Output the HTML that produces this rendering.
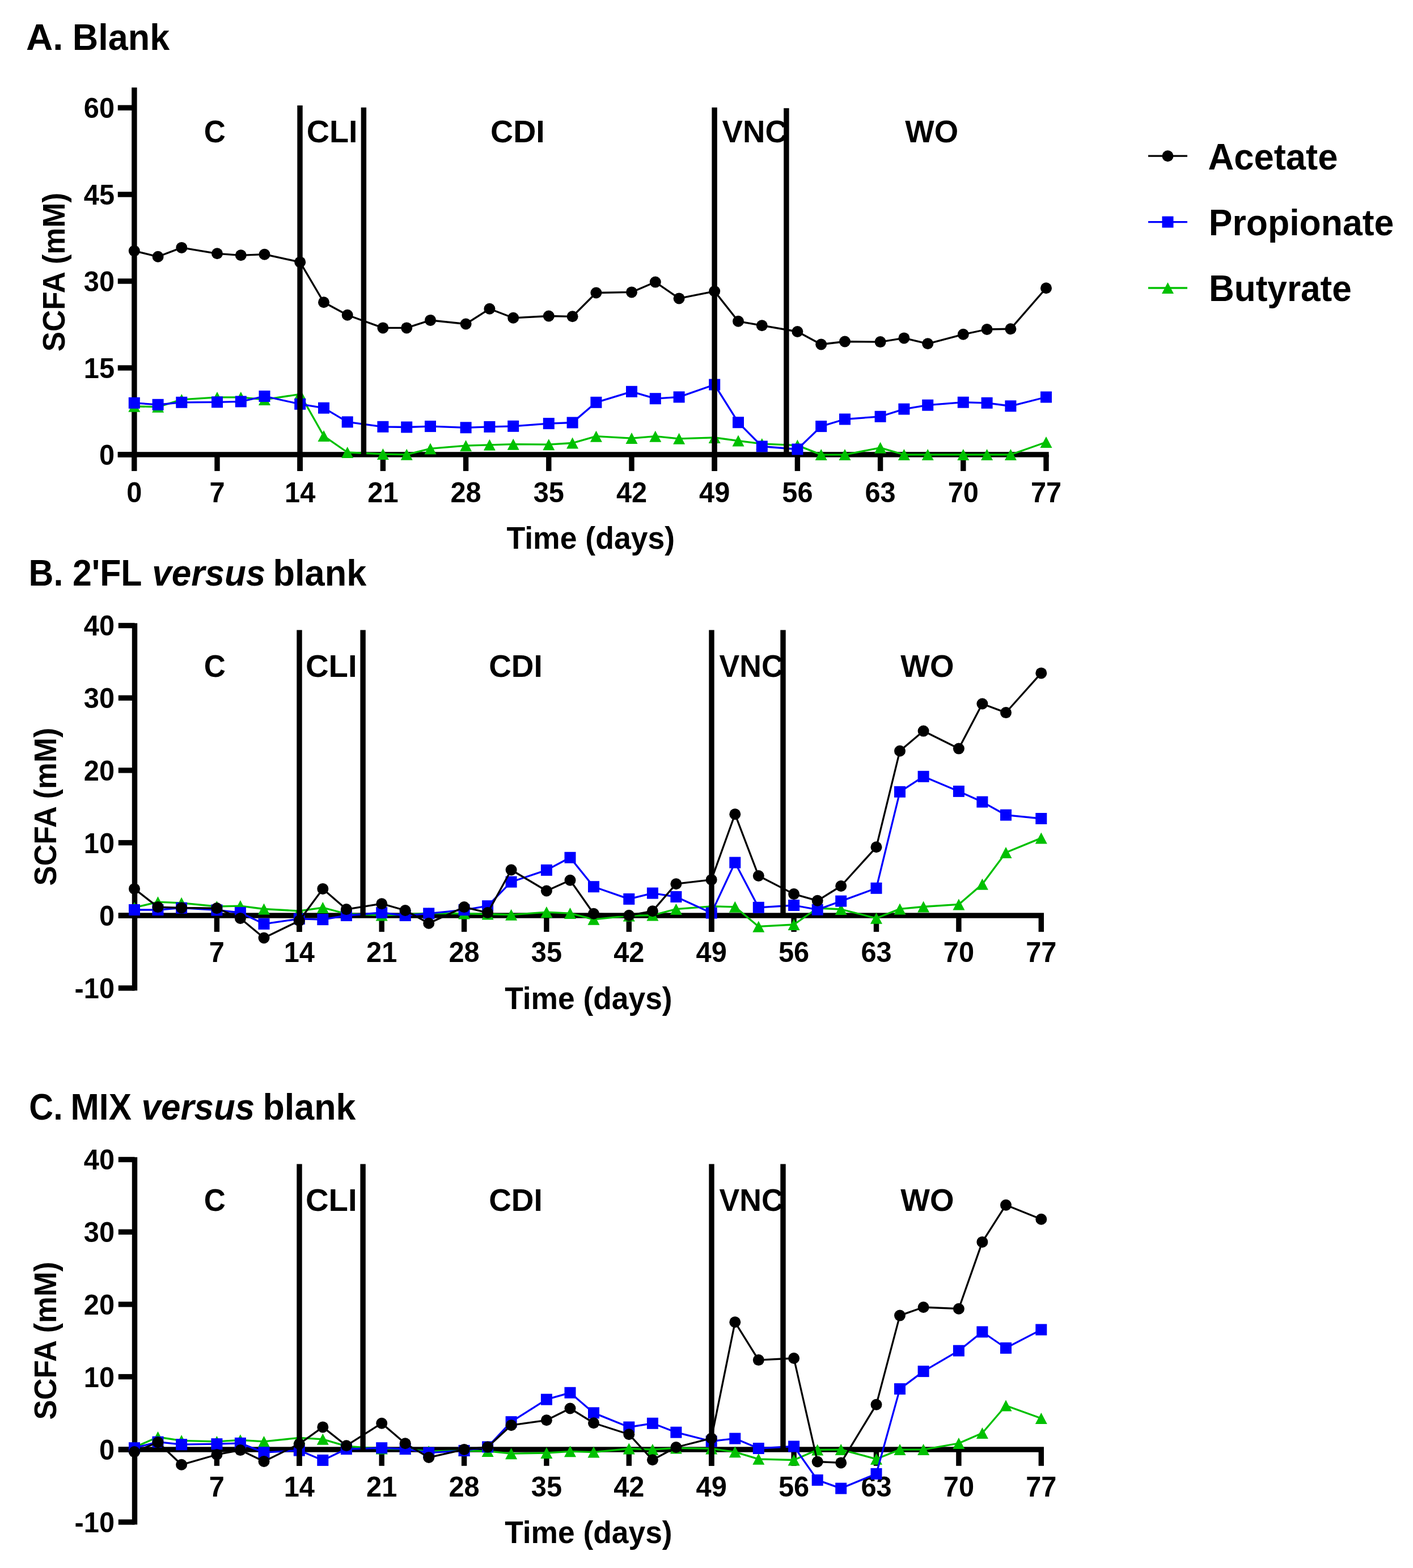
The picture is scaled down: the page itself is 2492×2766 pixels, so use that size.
<!DOCTYPE html><html><head><meta charset="utf-8"><title>SCFA</title><style>html,body{margin:0;padding:0;background:#fff;}svg{display:block;}text{font-family:'Liberation Sans', Arial, sans-serif;font-weight:bold;fill:#000;}</style></head><body>
<svg width="2492" height="2766" viewBox="0 0 2492 2766">
<rect x="0" y="0" width="2492" height="2766" fill="#fff"/>
<text x="0" y="0" font-size="64.5" transform="translate(46.1 87.9) scale(1.0146 1)">A.</text>
<text x="0" y="0" font-size="64.5" transform="translate(127.8 87.9) scale(0.9759 1)">Blank</text>
<text x="0" y="0" font-size="64.5" transform="translate(50.6 1032.7) scale(0.9429 1)">B.</text>
<text x="0" y="0" font-size="64.5" transform="translate(127.9 1032.7) scale(0.9429 1)">2'FL</text>
<text x="0" y="0" font-size="64.5" font-style="italic" transform="translate(268.3 1032.7) scale(0.9618 1)">versus</text>
<text x="0" y="0" font-size="64.5" transform="translate(481.5 1032.7) scale(0.9785 1)">blank</text>
<text x="0" y="0" font-size="64.5" transform="translate(51.3 1974.9) scale(0.9198 1)">C.</text>
<text x="0" y="0" font-size="64.5" transform="translate(124.6 1974.9) scale(0.9357 1)">MIX</text>
<text x="0" y="0" font-size="64.5" font-style="italic" transform="translate(249.6 1974.9) scale(0.9594 1)">versus</text>
<text x="0" y="0" font-size="64.5" transform="translate(463.5 1974.9) scale(0.9730 1)">blank</text>
<rect x="232.2" y="154.4" width="9.4" height="652.2" fill="#000000"/>
<rect x="207.8" y="185.4" width="29" height="9.4" fill="#000000"/>
<text x="0" y="0" font-size="50" text-anchor="end" transform="translate(202 208) scale(0.9750 1)">60</text>
<rect x="207.8" y="338.3" width="29" height="9.4" fill="#000000"/>
<text x="0" y="0" font-size="50" text-anchor="end" transform="translate(202 360.9) scale(0.9750 1)">45</text>
<rect x="207.8" y="491.3" width="29" height="9.4" fill="#000000"/>
<text x="0" y="0" font-size="50" text-anchor="end" transform="translate(202 513.9) scale(0.9750 1)">30</text>
<rect x="207.8" y="644.3" width="29" height="9.4" fill="#000000"/>
<text x="0" y="0" font-size="50" text-anchor="end" transform="translate(202 666.9) scale(0.9750 1)">15</text>
<rect x="207.8" y="797.2" width="29" height="9.4" fill="#000000"/>
<text x="0" y="0" font-size="50" text-anchor="end" transform="translate(202 819.9) scale(0.9750 1)">0</text>
<rect x="207.8" y="797.2" width="1641.9" height="9.4" fill="#000000"/>
<rect x="232.1" y="802" width="9.4" height="28.9" fill="#000000"/>
<text x="0" y="0" font-size="50" text-anchor="middle" transform="translate(236.8 886.3) scale(0.9750 1)">0</text>
<rect x="378.3" y="802" width="9.4" height="28.9" fill="#000000"/>
<text x="0" y="0" font-size="50" text-anchor="middle" transform="translate(383 886.3) scale(0.9750 1)">7</text>
<rect x="524.5" y="802" width="9.4" height="28.9" fill="#000000"/>
<text x="0" y="0" font-size="50" text-anchor="middle" transform="translate(529.2 886.3) scale(0.9750 1)">14</text>
<rect x="670.7" y="802" width="9.4" height="28.9" fill="#000000"/>
<text x="0" y="0" font-size="50" text-anchor="middle" transform="translate(675.4 886.3) scale(0.9750 1)">21</text>
<rect x="816.9" y="802" width="9.4" height="28.9" fill="#000000"/>
<text x="0" y="0" font-size="50" text-anchor="middle" transform="translate(821.6 886.3) scale(0.9750 1)">28</text>
<rect x="963.1" y="802" width="9.4" height="28.9" fill="#000000"/>
<text x="0" y="0" font-size="50" text-anchor="middle" transform="translate(967.8 886.3) scale(0.9750 1)">35</text>
<rect x="1109.3" y="802" width="9.4" height="28.9" fill="#000000"/>
<text x="0" y="0" font-size="50" text-anchor="middle" transform="translate(1114 886.3) scale(0.9750 1)">42</text>
<rect x="1255.5" y="802" width="9.4" height="28.9" fill="#000000"/>
<text x="0" y="0" font-size="50" text-anchor="middle" transform="translate(1260.2 886.3) scale(0.9750 1)">49</text>
<rect x="1401.7" y="802" width="9.4" height="28.9" fill="#000000"/>
<text x="0" y="0" font-size="50" text-anchor="middle" transform="translate(1406.4 886.3) scale(0.9750 1)">56</text>
<rect x="1547.9" y="802" width="9.4" height="28.9" fill="#000000"/>
<text x="0" y="0" font-size="50" text-anchor="middle" transform="translate(1552.6 886.3) scale(0.9750 1)">63</text>
<rect x="1694.1" y="802" width="9.4" height="28.9" fill="#000000"/>
<text x="0" y="0" font-size="50" text-anchor="middle" transform="translate(1698.8 886.3) scale(0.9750 1)">70</text>
<rect x="1840.3" y="802" width="9.4" height="28.9" fill="#000000"/>
<text x="0" y="0" font-size="50" text-anchor="middle" transform="translate(1845 886.3) scale(0.9750 1)">77</text>
<polyline points="236.8,716.8 278.6,717.8 320.3,704.9 383,700.9 424.8,700.9 466.5,704.9 529.2,695.3 571,769.1 612.7,798 675.4,801 717.2,801.8 759,791.4 821.6,786.2 863.4,784.8 905.2,783.7 967.8,784.2 1009.6,781.5 1051.4,769.7 1114,773.1 1155.8,769.7 1197.6,773.8 1260.2,771.9 1302,777.6 1343.8,782.9 1406.4,785.6 1448.2,802.1 1490,802.1 1552.6,789.8 1594.4,802 1636.2,802 1698.8,802 1740.6,802 1782.4,802 1845,780" fill="none" stroke="#00C000" stroke-width="3.3" stroke-linejoin="round"/>
<path d="M236.8 706.8L247.3 726.8L226.3 726.8Z" fill="#00C000"/>
<path d="M278.6 707.8L289.1 727.8L268.1 727.8Z" fill="#00C000"/>
<path d="M320.3 694.9L330.8 714.9L309.8 714.9Z" fill="#00C000"/>
<path d="M383 690.9L393.5 710.9L372.5 710.9Z" fill="#00C000"/>
<path d="M424.8 690.9L435.3 710.9L414.3 710.9Z" fill="#00C000"/>
<path d="M466.5 694.9L477 714.9L456 714.9Z" fill="#00C000"/>
<path d="M529.2 685.3L539.7 705.3L518.7 705.3Z" fill="#00C000"/>
<path d="M571 759.1L581.5 779.1L560.5 779.1Z" fill="#00C000"/>
<path d="M612.7 788L623.2 808L602.2 808Z" fill="#00C000"/>
<path d="M675.4 791L685.9 811L664.9 811Z" fill="#00C000"/>
<path d="M717.2 791.8L727.7 811.8L706.7 811.8Z" fill="#00C000"/>
<path d="M759 781.4L769.5 801.4L748.5 801.4Z" fill="#00C000"/>
<path d="M821.6 776.2L832.1 796.2L811.1 796.2Z" fill="#00C000"/>
<path d="M863.4 774.8L873.9 794.8L852.9 794.8Z" fill="#00C000"/>
<path d="M905.2 773.7L915.7 793.7L894.7 793.7Z" fill="#00C000"/>
<path d="M967.8 774.2L978.3 794.2L957.3 794.2Z" fill="#00C000"/>
<path d="M1009.6 771.5L1020.1 791.5L999.1 791.5Z" fill="#00C000"/>
<path d="M1051.4 759.7L1061.9 779.7L1040.9 779.7Z" fill="#00C000"/>
<path d="M1114 763.1L1124.5 783.1L1103.5 783.1Z" fill="#00C000"/>
<path d="M1155.8 759.7L1166.3 779.7L1145.3 779.7Z" fill="#00C000"/>
<path d="M1197.6 763.8L1208.1 783.8L1187.1 783.8Z" fill="#00C000"/>
<path d="M1260.2 761.9L1270.7 781.9L1249.7 781.9Z" fill="#00C000"/>
<path d="M1302 767.6L1312.5 787.6L1291.5 787.6Z" fill="#00C000"/>
<path d="M1343.8 772.9L1354.3 792.9L1333.3 792.9Z" fill="#00C000"/>
<path d="M1406.4 775.6L1416.9 795.6L1395.9 795.6Z" fill="#00C000"/>
<path d="M1448.2 792.1L1458.7 812.1L1437.7 812.1Z" fill="#00C000"/>
<path d="M1490 792.1L1500.5 812.1L1479.5 812.1Z" fill="#00C000"/>
<path d="M1552.6 779.8L1563.1 799.8L1542.1 799.8Z" fill="#00C000"/>
<path d="M1594.4 792L1604.9 812L1583.9 812Z" fill="#00C000"/>
<path d="M1636.2 792L1646.7 812L1625.7 812Z" fill="#00C000"/>
<path d="M1698.8 792L1709.3 812L1688.3 812Z" fill="#00C000"/>
<path d="M1740.6 792L1751.1 812L1730.1 812Z" fill="#00C000"/>
<path d="M1782.4 792L1792.9 812L1771.9 812Z" fill="#00C000"/>
<path d="M1845 770L1855.5 790L1834.5 790Z" fill="#00C000"/>
<polyline points="236.8,710.8 278.6,713.8 320.3,709.8 383,709.3 424.8,708.4 466.5,699 529.2,712.8 571,719.7 612.7,744.4 675.4,752.8 717.2,753.5 759,752.1 821.6,754.3 863.4,752.9 905.2,751.8 967.8,747.1 1009.6,745.5 1051.4,709.8 1114,690.8 1155.8,703.2 1197.6,700.4 1260.2,678.5 1302,745.2 1343.8,787.5 1406.4,792.5 1448.2,752.1 1490,739.5 1552.6,734.8 1594.4,721.6 1636.2,714.7 1698.8,709.7 1740.6,710.8 1782.4,716.3 1845,700.5" fill="none" stroke="#0000FF" stroke-width="3.3" stroke-linejoin="round"/>
<rect x="226.8" y="700.8" width="20" height="20" fill="#0000FF"/>
<rect x="268.6" y="703.8" width="20" height="20" fill="#0000FF"/>
<rect x="310.3" y="699.8" width="20" height="20" fill="#0000FF"/>
<rect x="373" y="699.3" width="20" height="20" fill="#0000FF"/>
<rect x="414.8" y="698.4" width="20" height="20" fill="#0000FF"/>
<rect x="456.5" y="689" width="20" height="20" fill="#0000FF"/>
<rect x="519.2" y="702.8" width="20" height="20" fill="#0000FF"/>
<rect x="561" y="709.7" width="20" height="20" fill="#0000FF"/>
<rect x="602.7" y="734.4" width="20" height="20" fill="#0000FF"/>
<rect x="665.4" y="742.8" width="20" height="20" fill="#0000FF"/>
<rect x="707.2" y="743.5" width="20" height="20" fill="#0000FF"/>
<rect x="749" y="742.1" width="20" height="20" fill="#0000FF"/>
<rect x="811.6" y="744.3" width="20" height="20" fill="#0000FF"/>
<rect x="853.4" y="742.9" width="20" height="20" fill="#0000FF"/>
<rect x="895.2" y="741.8" width="20" height="20" fill="#0000FF"/>
<rect x="957.8" y="737.1" width="20" height="20" fill="#0000FF"/>
<rect x="999.6" y="735.5" width="20" height="20" fill="#0000FF"/>
<rect x="1041.4" y="699.8" width="20" height="20" fill="#0000FF"/>
<rect x="1104" y="680.8" width="20" height="20" fill="#0000FF"/>
<rect x="1145.8" y="693.2" width="20" height="20" fill="#0000FF"/>
<rect x="1187.6" y="690.4" width="20" height="20" fill="#0000FF"/>
<rect x="1250.2" y="668.5" width="20" height="20" fill="#0000FF"/>
<rect x="1292" y="735.2" width="20" height="20" fill="#0000FF"/>
<rect x="1333.8" y="777.5" width="20" height="20" fill="#0000FF"/>
<rect x="1396.4" y="782.5" width="20" height="20" fill="#0000FF"/>
<rect x="1438.2" y="742.1" width="20" height="20" fill="#0000FF"/>
<rect x="1480" y="729.5" width="20" height="20" fill="#0000FF"/>
<rect x="1542.6" y="724.8" width="20" height="20" fill="#0000FF"/>
<rect x="1584.4" y="711.6" width="20" height="20" fill="#0000FF"/>
<rect x="1626.2" y="704.7" width="20" height="20" fill="#0000FF"/>
<rect x="1688.8" y="699.7" width="20" height="20" fill="#0000FF"/>
<rect x="1730.6" y="700.8" width="20" height="20" fill="#0000FF"/>
<rect x="1772.4" y="706.3" width="20" height="20" fill="#0000FF"/>
<rect x="1835" y="690.5" width="20" height="20" fill="#0000FF"/>
<polyline points="236.8,442.6 278.6,452.8 320.3,436.9 383,447.3 424.8,450.3 466.5,448.7 529.2,462.4 571,533.3 612.7,555.8 675.4,578.4 717.2,578.4 759,564.9 821.6,571.5 863.4,544.8 905.2,560.8 967.8,557.5 1009.6,558.3 1051.4,516.5 1114,515.4 1155.8,497.6 1197.6,526.4 1260.2,513.8 1302,566.8 1343.8,574.2 1406.4,585 1448.2,607.5 1490,602.5 1552.6,603.1 1594.4,596.4 1636.2,606.3 1698.8,589.8 1740.6,581 1782.4,580.2 1845,508.2" fill="none" stroke="#000000" stroke-width="3.3" stroke-linejoin="round"/>
<circle cx="236.8" cy="442.6" r="10" fill="#000000"/>
<circle cx="278.6" cy="452.8" r="10" fill="#000000"/>
<circle cx="320.3" cy="436.9" r="10" fill="#000000"/>
<circle cx="383" cy="447.3" r="10" fill="#000000"/>
<circle cx="424.8" cy="450.3" r="10" fill="#000000"/>
<circle cx="466.5" cy="448.7" r="10" fill="#000000"/>
<circle cx="529.2" cy="462.4" r="10" fill="#000000"/>
<circle cx="571" cy="533.3" r="10" fill="#000000"/>
<circle cx="612.7" cy="555.8" r="10" fill="#000000"/>
<circle cx="675.4" cy="578.4" r="10" fill="#000000"/>
<circle cx="717.2" cy="578.4" r="10" fill="#000000"/>
<circle cx="759" cy="564.9" r="10" fill="#000000"/>
<circle cx="821.6" cy="571.5" r="10" fill="#000000"/>
<circle cx="863.4" cy="544.8" r="10" fill="#000000"/>
<circle cx="905.2" cy="560.8" r="10" fill="#000000"/>
<circle cx="967.8" cy="557.5" r="10" fill="#000000"/>
<circle cx="1009.6" cy="558.3" r="10" fill="#000000"/>
<circle cx="1051.4" cy="516.5" r="10" fill="#000000"/>
<circle cx="1114" cy="515.4" r="10" fill="#000000"/>
<circle cx="1155.8" cy="497.6" r="10" fill="#000000"/>
<circle cx="1197.6" cy="526.4" r="10" fill="#000000"/>
<circle cx="1260.2" cy="513.8" r="10" fill="#000000"/>
<circle cx="1302" cy="566.8" r="10" fill="#000000"/>
<circle cx="1343.8" cy="574.2" r="10" fill="#000000"/>
<circle cx="1406.4" cy="585" r="10" fill="#000000"/>
<circle cx="1448.2" cy="607.5" r="10" fill="#000000"/>
<circle cx="1490" cy="602.5" r="10" fill="#000000"/>
<circle cx="1552.6" cy="603.1" r="10" fill="#000000"/>
<circle cx="1594.4" cy="596.4" r="10" fill="#000000"/>
<circle cx="1636.2" cy="606.3" r="10" fill="#000000"/>
<circle cx="1698.8" cy="589.8" r="10" fill="#000000"/>
<circle cx="1740.6" cy="581" r="10" fill="#000000"/>
<circle cx="1782.4" cy="580.2" r="10" fill="#000000"/>
<circle cx="1845" cy="508.2" r="10" fill="#000000"/>
<text x="0" y="0" font-size="55.6" transform="translate(359.8 251) scale(0.9491 1)">C</text>
<text x="0" y="0" font-size="55.6" transform="translate(540.7 251) scale(1.0036 1)">CLI</text>
<text x="0" y="0" font-size="55.6" transform="translate(865.1 251) scale(0.9992 1)">CDI</text>
<text x="0" y="0" font-size="55.6" transform="translate(1273.6 251) scale(0.9817 1)">VNC</text>
<text x="0" y="0" font-size="55.6" transform="translate(1596.2 251) scale(0.9806 1)">WO</text>
<rect x="524.3" y="186" width="9.4" height="644.9" fill="#000000"/>
<rect x="636.7" y="189.6" width="9.4" height="612.4" fill="#000000"/>
<rect x="1255.4" y="189.6" width="9.4" height="641.3" fill="#000000"/>
<rect x="1382.2" y="190.8" width="9.4" height="611.2" fill="#000000"/>
<text x="0" y="0" font-size="55.7" transform="translate(893.5 968.1) scale(0.9612 1)">Time (days)</text>
<text x="0" y="0" font-size="55.7" transform="translate(114.2 620.2) rotate(-90) scale(0.9506 1)">SCFA (mM)</text>
<rect x="232.8" y="1099.3" width="9.4" height="648.1" fill="#000000"/>
<rect x="208.8" y="1098.8" width="28.7" height="9.4" fill="#000000"/>
<text x="0" y="0" font-size="50" text-anchor="end" transform="translate(202 1121.4) scale(0.9750 1)">40</text>
<rect x="208.8" y="1226.5" width="28.7" height="9.4" fill="#000000"/>
<text x="0" y="0" font-size="50" text-anchor="end" transform="translate(202 1249.1) scale(0.9750 1)">30</text>
<rect x="208.8" y="1354.2" width="28.7" height="9.4" fill="#000000"/>
<text x="0" y="0" font-size="50" text-anchor="end" transform="translate(202 1376.8) scale(0.9750 1)">20</text>
<rect x="208.8" y="1481.9" width="28.7" height="9.4" fill="#000000"/>
<text x="0" y="0" font-size="50" text-anchor="end" transform="translate(202 1504.5) scale(0.9750 1)">10</text>
<rect x="208.8" y="1610.3" width="28.7" height="9.4" fill="#000000"/>
<text x="0" y="0" font-size="50" text-anchor="end" transform="translate(202 1632.9) scale(0.9750 1)">0</text>
<rect x="208.8" y="1738.3" width="28.7" height="9.4" fill="#000000"/>
<text x="0" y="0" font-size="50" text-anchor="end" transform="translate(202 1760.9) scale(0.9750 1)">-10</text>
<rect x="208.8" y="1610.3" width="1632.2" height="9.4" fill="#000000"/>
<rect x="377.7" y="1615" width="9.4" height="28.8" fill="#000000"/>
<text x="0" y="0" font-size="50" text-anchor="middle" transform="translate(382.4 1697) scale(0.9750 1)">7</text>
<rect x="523.1" y="1615" width="9.4" height="28.8" fill="#000000"/>
<text x="0" y="0" font-size="50" text-anchor="middle" transform="translate(527.8 1697) scale(0.9750 1)">14</text>
<rect x="668.5" y="1615" width="9.4" height="28.8" fill="#000000"/>
<text x="0" y="0" font-size="50" text-anchor="middle" transform="translate(673.2 1697) scale(0.9750 1)">21</text>
<rect x="813.9" y="1615" width="9.4" height="28.8" fill="#000000"/>
<text x="0" y="0" font-size="50" text-anchor="middle" transform="translate(818.6 1697) scale(0.9750 1)">28</text>
<rect x="959.2" y="1615" width="9.4" height="28.8" fill="#000000"/>
<text x="0" y="0" font-size="50" text-anchor="middle" transform="translate(963.9 1697) scale(0.9750 1)">35</text>
<rect x="1104.6" y="1615" width="9.4" height="28.8" fill="#000000"/>
<text x="0" y="0" font-size="50" text-anchor="middle" transform="translate(1109.3 1697) scale(0.9750 1)">42</text>
<rect x="1250" y="1615" width="9.4" height="28.8" fill="#000000"/>
<text x="0" y="0" font-size="50" text-anchor="middle" transform="translate(1254.7 1697) scale(0.9750 1)">49</text>
<rect x="1395.4" y="1615" width="9.4" height="28.8" fill="#000000"/>
<text x="0" y="0" font-size="50" text-anchor="middle" transform="translate(1400.1 1697) scale(0.9750 1)">56</text>
<rect x="1540.8" y="1615" width="9.4" height="28.8" fill="#000000"/>
<text x="0" y="0" font-size="50" text-anchor="middle" transform="translate(1545.5 1697) scale(0.9750 1)">63</text>
<rect x="1686.2" y="1615" width="9.4" height="28.8" fill="#000000"/>
<text x="0" y="0" font-size="50" text-anchor="middle" transform="translate(1690.9 1697) scale(0.9750 1)">70</text>
<rect x="1831.6" y="1615" width="9.4" height="28.8" fill="#000000"/>
<text x="0" y="0" font-size="50" text-anchor="middle" transform="translate(1836.3 1697) scale(0.9750 1)">77</text>
<polyline points="237,1601 278.5,1591.2 320.1,1592.8 382.4,1599 423.9,1598.1 465.5,1603.5 527.8,1607 569.3,1601.1 610.9,1612 673.2,1614.5 714.7,1613 756.2,1611 818.6,1611.5 860.1,1612.5 901.6,1613.7 963.9,1609.1 1005.5,1611.1 1047,1621.8 1109.3,1615.4 1150.9,1614.5 1192.4,1603.7 1254.7,1598.8 1296.3,1599.8 1337.8,1634.4 1400.1,1631 1441.7,1602 1483.2,1604 1545.5,1619.8 1587,1603.4 1628.6,1599.5 1690.9,1595.4 1732.4,1559.7 1774,1503.9 1836.3,1478.4" fill="none" stroke="#00C000" stroke-width="3.3" stroke-linejoin="round"/>
<path d="M237 1591L247.5 1611L226.5 1611Z" fill="#00C000"/>
<path d="M278.5 1581.2L289 1601.2L268 1601.2Z" fill="#00C000"/>
<path d="M320.1 1582.8L330.6 1602.8L309.6 1602.8Z" fill="#00C000"/>
<path d="M382.4 1589L392.9 1609L371.9 1609Z" fill="#00C000"/>
<path d="M423.9 1588.1L434.4 1608.1L413.4 1608.1Z" fill="#00C000"/>
<path d="M465.5 1593.5L476 1613.5L455 1613.5Z" fill="#00C000"/>
<path d="M527.8 1597L538.3 1617L517.3 1617Z" fill="#00C000"/>
<path d="M569.3 1591.1L579.8 1611.1L558.8 1611.1Z" fill="#00C000"/>
<path d="M610.9 1602L621.4 1622L600.4 1622Z" fill="#00C000"/>
<path d="M673.2 1604.5L683.7 1624.5L662.7 1624.5Z" fill="#00C000"/>
<path d="M714.7 1603L725.2 1623L704.2 1623Z" fill="#00C000"/>
<path d="M756.2 1601L766.8 1621L745.8 1621Z" fill="#00C000"/>
<path d="M818.6 1601.5L829.1 1621.5L808.1 1621.5Z" fill="#00C000"/>
<path d="M860.1 1602.5L870.6 1622.5L849.6 1622.5Z" fill="#00C000"/>
<path d="M901.6 1603.7L912.1 1623.7L891.1 1623.7Z" fill="#00C000"/>
<path d="M963.9 1599.1L974.4 1619.1L953.4 1619.1Z" fill="#00C000"/>
<path d="M1005.5 1601.1L1016 1621.1L995 1621.1Z" fill="#00C000"/>
<path d="M1047 1611.8L1057.5 1631.8L1036.5 1631.8Z" fill="#00C000"/>
<path d="M1109.3 1605.4L1119.8 1625.4L1098.8 1625.4Z" fill="#00C000"/>
<path d="M1150.9 1604.5L1161.4 1624.5L1140.4 1624.5Z" fill="#00C000"/>
<path d="M1192.4 1593.7L1202.9 1613.7L1181.9 1613.7Z" fill="#00C000"/>
<path d="M1254.7 1588.8L1265.2 1608.8L1244.2 1608.8Z" fill="#00C000"/>
<path d="M1296.3 1589.8L1306.8 1609.8L1285.8 1609.8Z" fill="#00C000"/>
<path d="M1337.8 1624.4L1348.3 1644.4L1327.3 1644.4Z" fill="#00C000"/>
<path d="M1400.1 1621L1410.6 1641L1389.6 1641Z" fill="#00C000"/>
<path d="M1441.7 1592L1452.2 1612L1431.2 1612Z" fill="#00C000"/>
<path d="M1483.2 1594L1493.7 1614L1472.7 1614Z" fill="#00C000"/>
<path d="M1545.5 1609.8L1556 1629.8L1535 1629.8Z" fill="#00C000"/>
<path d="M1587 1593.4L1597.5 1613.4L1576.5 1613.4Z" fill="#00C000"/>
<path d="M1628.6 1589.5L1639.1 1609.5L1618.1 1609.5Z" fill="#00C000"/>
<path d="M1690.9 1585.4L1701.4 1605.4L1680.4 1605.4Z" fill="#00C000"/>
<path d="M1732.4 1549.7L1742.9 1569.7L1721.9 1569.7Z" fill="#00C000"/>
<path d="M1774 1493.9L1784.5 1513.9L1763.5 1513.9Z" fill="#00C000"/>
<path d="M1836.3 1468.4L1846.8 1488.4L1825.8 1488.4Z" fill="#00C000"/>
<polyline points="237,1605 278.5,1605 320.1,1601.7 382.4,1605.4 423.9,1610 465.5,1629.8 527.8,1620.9 569.3,1622.1 610.9,1615 673.2,1610 714.7,1615 756.2,1611.4 818.6,1605.1 860.1,1598.2 901.6,1555.7 963.9,1534.9 1005.5,1512.8 1047,1564.2 1109.3,1585.9 1150.9,1575.6 1192.4,1582 1254.7,1610.6 1296.3,1521.6 1337.8,1600.8 1400.1,1597 1441.7,1604.7 1483.2,1589.6 1545.5,1566.8 1587,1396.8 1628.6,1369.8 1690.9,1395.9 1732.4,1414.6 1774,1437.7 1836.3,1444" fill="none" stroke="#0000FF" stroke-width="3.3" stroke-linejoin="round"/>
<rect x="227" y="1595" width="20" height="20" fill="#0000FF"/>
<rect x="268.5" y="1595" width="20" height="20" fill="#0000FF"/>
<rect x="310.1" y="1591.7" width="20" height="20" fill="#0000FF"/>
<rect x="372.4" y="1595.4" width="20" height="20" fill="#0000FF"/>
<rect x="413.9" y="1600" width="20" height="20" fill="#0000FF"/>
<rect x="455.5" y="1619.8" width="20" height="20" fill="#0000FF"/>
<rect x="517.8" y="1610.9" width="20" height="20" fill="#0000FF"/>
<rect x="559.3" y="1612.1" width="20" height="20" fill="#0000FF"/>
<rect x="600.9" y="1605" width="20" height="20" fill="#0000FF"/>
<rect x="663.2" y="1600" width="20" height="20" fill="#0000FF"/>
<rect x="704.7" y="1605" width="20" height="20" fill="#0000FF"/>
<rect x="746.2" y="1601.4" width="20" height="20" fill="#0000FF"/>
<rect x="808.6" y="1595.1" width="20" height="20" fill="#0000FF"/>
<rect x="850.1" y="1588.2" width="20" height="20" fill="#0000FF"/>
<rect x="891.6" y="1545.7" width="20" height="20" fill="#0000FF"/>
<rect x="953.9" y="1524.9" width="20" height="20" fill="#0000FF"/>
<rect x="995.5" y="1502.8" width="20" height="20" fill="#0000FF"/>
<rect x="1037" y="1554.2" width="20" height="20" fill="#0000FF"/>
<rect x="1099.3" y="1575.9" width="20" height="20" fill="#0000FF"/>
<rect x="1140.9" y="1565.6" width="20" height="20" fill="#0000FF"/>
<rect x="1182.4" y="1572" width="20" height="20" fill="#0000FF"/>
<rect x="1244.7" y="1600.6" width="20" height="20" fill="#0000FF"/>
<rect x="1286.3" y="1511.6" width="20" height="20" fill="#0000FF"/>
<rect x="1327.8" y="1590.8" width="20" height="20" fill="#0000FF"/>
<rect x="1390.1" y="1587" width="20" height="20" fill="#0000FF"/>
<rect x="1431.7" y="1594.7" width="20" height="20" fill="#0000FF"/>
<rect x="1473.2" y="1579.6" width="20" height="20" fill="#0000FF"/>
<rect x="1535.5" y="1556.8" width="20" height="20" fill="#0000FF"/>
<rect x="1577" y="1386.8" width="20" height="20" fill="#0000FF"/>
<rect x="1618.6" y="1359.8" width="20" height="20" fill="#0000FF"/>
<rect x="1680.9" y="1385.9" width="20" height="20" fill="#0000FF"/>
<rect x="1722.4" y="1404.6" width="20" height="20" fill="#0000FF"/>
<rect x="1764" y="1427.7" width="20" height="20" fill="#0000FF"/>
<rect x="1826.3" y="1434" width="20" height="20" fill="#0000FF"/>
<polyline points="237,1567.9 278.5,1600.1 320.1,1601.5 382.4,1602.1 423.9,1619.9 465.5,1654.5 527.8,1624.3 569.3,1567.9 610.9,1604.1 673.2,1594.2 714.7,1606 756.2,1628.8 818.6,1600.1 860.1,1610.1 901.6,1534.5 963.9,1571.5 1005.5,1552.7 1047,1611.7 1109.3,1614.8 1150.9,1607.2 1192.4,1559.2 1254.7,1551.9 1296.3,1436.2 1337.8,1545 1400.1,1577.1 1441.7,1588.8 1483.2,1563 1545.5,1494.3 1587,1324.7 1628.6,1289.6 1690.9,1320.6 1732.4,1241.5 1774,1257.1 1836.3,1187.4" fill="none" stroke="#000000" stroke-width="3.3" stroke-linejoin="round"/>
<circle cx="237" cy="1567.9" r="10" fill="#000000"/>
<circle cx="278.5" cy="1600.1" r="10" fill="#000000"/>
<circle cx="320.1" cy="1601.5" r="10" fill="#000000"/>
<circle cx="382.4" cy="1602.1" r="10" fill="#000000"/>
<circle cx="423.9" cy="1619.9" r="10" fill="#000000"/>
<circle cx="465.5" cy="1654.5" r="10" fill="#000000"/>
<circle cx="527.8" cy="1624.3" r="10" fill="#000000"/>
<circle cx="569.3" cy="1567.9" r="10" fill="#000000"/>
<circle cx="610.9" cy="1604.1" r="10" fill="#000000"/>
<circle cx="673.2" cy="1594.2" r="10" fill="#000000"/>
<circle cx="714.7" cy="1606" r="10" fill="#000000"/>
<circle cx="756.2" cy="1628.8" r="10" fill="#000000"/>
<circle cx="818.6" cy="1600.1" r="10" fill="#000000"/>
<circle cx="860.1" cy="1610.1" r="10" fill="#000000"/>
<circle cx="901.6" cy="1534.5" r="10" fill="#000000"/>
<circle cx="963.9" cy="1571.5" r="10" fill="#000000"/>
<circle cx="1005.5" cy="1552.7" r="10" fill="#000000"/>
<circle cx="1047" cy="1611.7" r="10" fill="#000000"/>
<circle cx="1109.3" cy="1614.8" r="10" fill="#000000"/>
<circle cx="1150.9" cy="1607.2" r="10" fill="#000000"/>
<circle cx="1192.4" cy="1559.2" r="10" fill="#000000"/>
<circle cx="1254.7" cy="1551.9" r="10" fill="#000000"/>
<circle cx="1296.3" cy="1436.2" r="10" fill="#000000"/>
<circle cx="1337.8" cy="1545" r="10" fill="#000000"/>
<circle cx="1400.1" cy="1577.1" r="10" fill="#000000"/>
<circle cx="1441.7" cy="1588.8" r="10" fill="#000000"/>
<circle cx="1483.2" cy="1563" r="10" fill="#000000"/>
<circle cx="1545.5" cy="1494.3" r="10" fill="#000000"/>
<circle cx="1587" cy="1324.7" r="10" fill="#000000"/>
<circle cx="1628.6" cy="1289.6" r="10" fill="#000000"/>
<circle cx="1690.9" cy="1320.6" r="10" fill="#000000"/>
<circle cx="1732.4" cy="1241.5" r="10" fill="#000000"/>
<circle cx="1774" cy="1257.1" r="10" fill="#000000"/>
<circle cx="1836.3" cy="1187.4" r="10" fill="#000000"/>
<text x="0" y="0" font-size="55.6" transform="translate(359.8 1194) scale(0.9491 1)">C</text>
<text x="0" y="0" font-size="55.6" transform="translate(538.9 1194) scale(1.0120 1)">CLI</text>
<text x="0" y="0" font-size="55.6" transform="translate(862.2 1194) scale(0.9881 1)">CDI</text>
<text x="0" y="0" font-size="55.6" transform="translate(1268.5 1194) scale(0.9638 1)">VNC</text>
<text x="0" y="0" font-size="55.6" transform="translate(1588.2 1194) scale(0.9849 1)">WO</text>
<rect x="523.3" y="1111.4" width="9.4" height="532.4" fill="#000000"/>
<rect x="635.4" y="1111.4" width="9.4" height="503.6" fill="#000000"/>
<rect x="1250.3" y="1111.4" width="9.4" height="532.4" fill="#000000"/>
<rect x="1376.3" y="1111.4" width="9.4" height="503.6" fill="#000000"/>
<text x="0" y="0" font-size="55.7" transform="translate(890.2 1780.2) scale(0.9576 1)">Time (days)</text>
<text x="0" y="0" font-size="55.7" transform="translate(99.2 1562.6) rotate(-90) scale(0.9458 1)">SCFA (mM)</text>
<rect x="232.8" y="2041.3" width="9.4" height="648.1" fill="#000000"/>
<rect x="208.8" y="2040.8" width="28.7" height="9.4" fill="#000000"/>
<text x="0" y="0" font-size="50" text-anchor="end" transform="translate(202 2063.4) scale(0.9750 1)">40</text>
<rect x="208.8" y="2168.5" width="28.7" height="9.4" fill="#000000"/>
<text x="0" y="0" font-size="50" text-anchor="end" transform="translate(202 2191.1) scale(0.9750 1)">30</text>
<rect x="208.8" y="2296.2" width="28.7" height="9.4" fill="#000000"/>
<text x="0" y="0" font-size="50" text-anchor="end" transform="translate(202 2318.8) scale(0.9750 1)">20</text>
<rect x="208.8" y="2423.9" width="28.7" height="9.4" fill="#000000"/>
<text x="0" y="0" font-size="50" text-anchor="end" transform="translate(202 2446.5) scale(0.9750 1)">10</text>
<rect x="208.8" y="2552.3" width="28.7" height="9.4" fill="#000000"/>
<text x="0" y="0" font-size="50" text-anchor="end" transform="translate(202 2574.9) scale(0.9750 1)">0</text>
<rect x="208.8" y="2680.3" width="28.7" height="9.4" fill="#000000"/>
<text x="0" y="0" font-size="50" text-anchor="end" transform="translate(202 2702.9) scale(0.9750 1)">-10</text>
<rect x="208.8" y="2552.3" width="1632.2" height="9.4" fill="#000000"/>
<rect x="377.7" y="2557" width="9.4" height="28.8" fill="#000000"/>
<text x="0" y="0" font-size="50" text-anchor="middle" transform="translate(382.4 2640) scale(0.9750 1)">7</text>
<rect x="523.1" y="2557" width="9.4" height="28.8" fill="#000000"/>
<text x="0" y="0" font-size="50" text-anchor="middle" transform="translate(527.8 2640) scale(0.9750 1)">14</text>
<rect x="668.5" y="2557" width="9.4" height="28.8" fill="#000000"/>
<text x="0" y="0" font-size="50" text-anchor="middle" transform="translate(673.2 2640) scale(0.9750 1)">21</text>
<rect x="813.9" y="2557" width="9.4" height="28.8" fill="#000000"/>
<text x="0" y="0" font-size="50" text-anchor="middle" transform="translate(818.6 2640) scale(0.9750 1)">28</text>
<rect x="959.2" y="2557" width="9.4" height="28.8" fill="#000000"/>
<text x="0" y="0" font-size="50" text-anchor="middle" transform="translate(963.9 2640) scale(0.9750 1)">35</text>
<rect x="1104.6" y="2557" width="9.4" height="28.8" fill="#000000"/>
<text x="0" y="0" font-size="50" text-anchor="middle" transform="translate(1109.3 2640) scale(0.9750 1)">42</text>
<rect x="1250" y="2557" width="9.4" height="28.8" fill="#000000"/>
<text x="0" y="0" font-size="50" text-anchor="middle" transform="translate(1254.7 2640) scale(0.9750 1)">49</text>
<rect x="1395.4" y="2557" width="9.4" height="28.8" fill="#000000"/>
<text x="0" y="0" font-size="50" text-anchor="middle" transform="translate(1400.1 2640) scale(0.9750 1)">56</text>
<rect x="1540.8" y="2557" width="9.4" height="28.8" fill="#000000"/>
<text x="0" y="0" font-size="50" text-anchor="middle" transform="translate(1545.5 2640) scale(0.9750 1)">63</text>
<rect x="1686.2" y="2557" width="9.4" height="28.8" fill="#000000"/>
<text x="0" y="0" font-size="50" text-anchor="middle" transform="translate(1690.9 2640) scale(0.9750 1)">70</text>
<rect x="1831.6" y="2557" width="9.4" height="28.8" fill="#000000"/>
<text x="0" y="0" font-size="50" text-anchor="middle" transform="translate(1836.3 2640) scale(0.9750 1)">77</text>
<polyline points="237,2553.2 278.5,2535 320.1,2541.3 382.4,2542.9 423.9,2540.3 465.5,2542.9 527.8,2536.4 569.3,2538.8 610.9,2551.2 673.2,2555.6 714.7,2556.1 756.2,2560.1 818.6,2559.1 860.1,2559.9 901.6,2564.2 963.9,2563 1005.5,2560.3 1047,2561.6 1109.3,2555.5 1150.9,2557 1192.4,2554.4 1254.7,2555.4 1296.3,2561.3 1337.8,2573.8 1400.1,2575.5 1441.7,2557.5 1483.2,2557.1 1545.5,2573.8 1587,2557.1 1628.6,2557.1 1690.9,2546 1732.4,2528 1774,2479.5 1836.3,2502" fill="none" stroke="#00C000" stroke-width="3.3" stroke-linejoin="round"/>
<path d="M237 2543.2L247.5 2563.2L226.5 2563.2Z" fill="#00C000"/>
<path d="M278.5 2525L289 2545L268 2545Z" fill="#00C000"/>
<path d="M320.1 2531.3L330.6 2551.3L309.6 2551.3Z" fill="#00C000"/>
<path d="M382.4 2532.9L392.9 2552.9L371.9 2552.9Z" fill="#00C000"/>
<path d="M423.9 2530.3L434.4 2550.3L413.4 2550.3Z" fill="#00C000"/>
<path d="M465.5 2532.9L476 2552.9L455 2552.9Z" fill="#00C000"/>
<path d="M527.8 2526.4L538.3 2546.4L517.3 2546.4Z" fill="#00C000"/>
<path d="M569.3 2528.8L579.8 2548.8L558.8 2548.8Z" fill="#00C000"/>
<path d="M610.9 2541.2L621.4 2561.2L600.4 2561.2Z" fill="#00C000"/>
<path d="M673.2 2545.6L683.7 2565.6L662.7 2565.6Z" fill="#00C000"/>
<path d="M714.7 2546.1L725.2 2566.1L704.2 2566.1Z" fill="#00C000"/>
<path d="M756.2 2550.1L766.8 2570.1L745.8 2570.1Z" fill="#00C000"/>
<path d="M818.6 2549.1L829.1 2569.1L808.1 2569.1Z" fill="#00C000"/>
<path d="M860.1 2549.9L870.6 2569.9L849.6 2569.9Z" fill="#00C000"/>
<path d="M901.6 2554.2L912.1 2574.2L891.1 2574.2Z" fill="#00C000"/>
<path d="M963.9 2553L974.4 2573L953.4 2573Z" fill="#00C000"/>
<path d="M1005.5 2550.3L1016 2570.3L995 2570.3Z" fill="#00C000"/>
<path d="M1047 2551.6L1057.5 2571.6L1036.5 2571.6Z" fill="#00C000"/>
<path d="M1109.3 2545.5L1119.8 2565.5L1098.8 2565.5Z" fill="#00C000"/>
<path d="M1150.9 2547L1161.4 2567L1140.4 2567Z" fill="#00C000"/>
<path d="M1192.4 2544.4L1202.9 2564.4L1181.9 2564.4Z" fill="#00C000"/>
<path d="M1254.7 2545.4L1265.2 2565.4L1244.2 2565.4Z" fill="#00C000"/>
<path d="M1296.3 2551.3L1306.8 2571.3L1285.8 2571.3Z" fill="#00C000"/>
<path d="M1337.8 2563.8L1348.3 2583.8L1327.3 2583.8Z" fill="#00C000"/>
<path d="M1400.1 2565.5L1410.6 2585.5L1389.6 2585.5Z" fill="#00C000"/>
<path d="M1441.7 2547.5L1452.2 2567.5L1431.2 2567.5Z" fill="#00C000"/>
<path d="M1483.2 2547.1L1493.7 2567.1L1472.7 2567.1Z" fill="#00C000"/>
<path d="M1545.5 2563.8L1556 2583.8L1535 2583.8Z" fill="#00C000"/>
<path d="M1587 2547.1L1597.5 2567.1L1576.5 2567.1Z" fill="#00C000"/>
<path d="M1628.6 2547.1L1639.1 2567.1L1618.1 2567.1Z" fill="#00C000"/>
<path d="M1690.9 2536L1701.4 2556L1680.4 2556Z" fill="#00C000"/>
<path d="M1732.4 2518L1742.9 2538L1721.9 2538Z" fill="#00C000"/>
<path d="M1774 2469.5L1784.5 2489.5L1763.5 2489.5Z" fill="#00C000"/>
<path d="M1836.3 2492L1846.8 2512L1825.8 2512Z" fill="#00C000"/>
<polyline points="237,2554.2 278.5,2543.7 320.1,2548.2 382.4,2547.2 423.9,2545.9 465.5,2562.1 527.8,2558.6 569.3,2575.9 610.9,2556.1 673.2,2554.2 714.7,2556.1 756.2,2562.7 818.6,2558.9 860.1,2552.4 901.6,2508.2 963.9,2468.7 1005.5,2456.8 1047,2492.4 1109.3,2517.5 1150.9,2510.8 1192.4,2526.7 1254.7,2542.5 1296.3,2537.6 1337.8,2555 1400.1,2551.5 1441.7,2610.9 1483.2,2625.6 1545.5,2599.8 1587,2450.1 1628.6,2419.1 1690.9,2382.7 1732.4,2349.5 1774,2378 1836.3,2345.6" fill="none" stroke="#0000FF" stroke-width="3.3" stroke-linejoin="round"/>
<rect x="227" y="2544.2" width="20" height="20" fill="#0000FF"/>
<rect x="268.5" y="2533.7" width="20" height="20" fill="#0000FF"/>
<rect x="310.1" y="2538.2" width="20" height="20" fill="#0000FF"/>
<rect x="372.4" y="2537.2" width="20" height="20" fill="#0000FF"/>
<rect x="413.9" y="2535.9" width="20" height="20" fill="#0000FF"/>
<rect x="455.5" y="2552.1" width="20" height="20" fill="#0000FF"/>
<rect x="517.8" y="2548.6" width="20" height="20" fill="#0000FF"/>
<rect x="559.3" y="2565.9" width="20" height="20" fill="#0000FF"/>
<rect x="600.9" y="2546.1" width="20" height="20" fill="#0000FF"/>
<rect x="663.2" y="2544.2" width="20" height="20" fill="#0000FF"/>
<rect x="704.7" y="2546.1" width="20" height="20" fill="#0000FF"/>
<rect x="746.2" y="2552.7" width="20" height="20" fill="#0000FF"/>
<rect x="808.6" y="2548.9" width="20" height="20" fill="#0000FF"/>
<rect x="850.1" y="2542.4" width="20" height="20" fill="#0000FF"/>
<rect x="891.6" y="2498.2" width="20" height="20" fill="#0000FF"/>
<rect x="953.9" y="2458.7" width="20" height="20" fill="#0000FF"/>
<rect x="995.5" y="2446.8" width="20" height="20" fill="#0000FF"/>
<rect x="1037" y="2482.4" width="20" height="20" fill="#0000FF"/>
<rect x="1099.3" y="2507.5" width="20" height="20" fill="#0000FF"/>
<rect x="1140.9" y="2500.8" width="20" height="20" fill="#0000FF"/>
<rect x="1182.4" y="2516.7" width="20" height="20" fill="#0000FF"/>
<rect x="1244.7" y="2532.5" width="20" height="20" fill="#0000FF"/>
<rect x="1286.3" y="2527.6" width="20" height="20" fill="#0000FF"/>
<rect x="1327.8" y="2545" width="20" height="20" fill="#0000FF"/>
<rect x="1390.1" y="2541.5" width="20" height="20" fill="#0000FF"/>
<rect x="1431.7" y="2600.9" width="20" height="20" fill="#0000FF"/>
<rect x="1473.2" y="2615.6" width="20" height="20" fill="#0000FF"/>
<rect x="1535.5" y="2589.8" width="20" height="20" fill="#0000FF"/>
<rect x="1577" y="2440.1" width="20" height="20" fill="#0000FF"/>
<rect x="1618.6" y="2409.1" width="20" height="20" fill="#0000FF"/>
<rect x="1680.9" y="2372.7" width="20" height="20" fill="#0000FF"/>
<rect x="1722.4" y="2339.5" width="20" height="20" fill="#0000FF"/>
<rect x="1764" y="2368" width="20" height="20" fill="#0000FF"/>
<rect x="1826.3" y="2335.6" width="20" height="20" fill="#0000FF"/>
<polyline points="237,2561.1 278.5,2544.3 320.1,2583.8 382.4,2566 423.9,2558.1 465.5,2577.9 527.8,2547.2 569.3,2517.4 610.9,2550.2 673.2,2510.7 714.7,2546.3 756.2,2571 818.6,2556.9 860.1,2552.6 901.6,2514.2 963.9,2505.3 1005.5,2484.5 1047,2510.2 1109.3,2530.2 1150.9,2575.3 1192.4,2553 1254.7,2537.2 1296.3,2332.3 1337.8,2399.1 1400.1,2396 1441.7,2578.5 1483.2,2580.4 1545.5,2477.8 1587,2320.6 1628.6,2306 1690.9,2308.7 1732.4,2190.9 1774,2125.7 1836.3,2150.7" fill="none" stroke="#000000" stroke-width="3.3" stroke-linejoin="round"/>
<circle cx="237" cy="2561.1" r="10" fill="#000000"/>
<circle cx="278.5" cy="2544.3" r="10" fill="#000000"/>
<circle cx="320.1" cy="2583.8" r="10" fill="#000000"/>
<circle cx="382.4" cy="2566" r="10" fill="#000000"/>
<circle cx="423.9" cy="2558.1" r="10" fill="#000000"/>
<circle cx="465.5" cy="2577.9" r="10" fill="#000000"/>
<circle cx="527.8" cy="2547.2" r="10" fill="#000000"/>
<circle cx="569.3" cy="2517.4" r="10" fill="#000000"/>
<circle cx="610.9" cy="2550.2" r="10" fill="#000000"/>
<circle cx="673.2" cy="2510.7" r="10" fill="#000000"/>
<circle cx="714.7" cy="2546.3" r="10" fill="#000000"/>
<circle cx="756.2" cy="2571" r="10" fill="#000000"/>
<circle cx="818.6" cy="2556.9" r="10" fill="#000000"/>
<circle cx="860.1" cy="2552.6" r="10" fill="#000000"/>
<circle cx="901.6" cy="2514.2" r="10" fill="#000000"/>
<circle cx="963.9" cy="2505.3" r="10" fill="#000000"/>
<circle cx="1005.5" cy="2484.5" r="10" fill="#000000"/>
<circle cx="1047" cy="2510.2" r="10" fill="#000000"/>
<circle cx="1109.3" cy="2530.2" r="10" fill="#000000"/>
<circle cx="1150.9" cy="2575.3" r="10" fill="#000000"/>
<circle cx="1192.4" cy="2553" r="10" fill="#000000"/>
<circle cx="1254.7" cy="2537.2" r="10" fill="#000000"/>
<circle cx="1296.3" cy="2332.3" r="10" fill="#000000"/>
<circle cx="1337.8" cy="2399.1" r="10" fill="#000000"/>
<circle cx="1400.1" cy="2396" r="10" fill="#000000"/>
<circle cx="1441.7" cy="2578.5" r="10" fill="#000000"/>
<circle cx="1483.2" cy="2580.4" r="10" fill="#000000"/>
<circle cx="1545.5" cy="2477.8" r="10" fill="#000000"/>
<circle cx="1587" cy="2320.6" r="10" fill="#000000"/>
<circle cx="1628.6" cy="2306" r="10" fill="#000000"/>
<circle cx="1690.9" cy="2308.7" r="10" fill="#000000"/>
<circle cx="1732.4" cy="2190.9" r="10" fill="#000000"/>
<circle cx="1774" cy="2125.7" r="10" fill="#000000"/>
<circle cx="1836.3" cy="2150.7" r="10" fill="#000000"/>
<text x="0" y="0" font-size="55.6" transform="translate(359.8 2136) scale(0.9491 1)">C</text>
<text x="0" y="0" font-size="55.6" transform="translate(538.9 2136) scale(1.0120 1)">CLI</text>
<text x="0" y="0" font-size="55.6" transform="translate(862.2 2136) scale(0.9881 1)">CDI</text>
<text x="0" y="0" font-size="55.6" transform="translate(1268.5 2136) scale(0.9638 1)">VNC</text>
<text x="0" y="0" font-size="55.6" transform="translate(1588.2 2136) scale(0.9849 1)">WO</text>
<rect x="523.3" y="2053.4" width="9.4" height="532.4" fill="#000000"/>
<rect x="635.4" y="2053.4" width="9.4" height="503.6" fill="#000000"/>
<rect x="1250.3" y="2053.4" width="9.4" height="532.4" fill="#000000"/>
<rect x="1376.3" y="2053.4" width="9.4" height="503.6" fill="#000000"/>
<text x="0" y="0" font-size="55.7" transform="translate(890.2 2722.2) scale(0.9576 1)">Time (days)</text>
<text x="0" y="0" font-size="55.7" transform="translate(99.2 2504.6) rotate(-90) scale(0.9458 1)">SCFA (mM)</text>
<line x1="2025" y1="275.2" x2="2094" y2="275.2" stroke="#000000" stroke-width="3.3"/>
<circle cx="2059.5" cy="275.2" r="10" fill="#000000"/>
<text x="0" y="0" font-size="64.6" transform="translate(2130.4 298.9) scale(0.9816 1)">Acetate</text>
<line x1="2025" y1="391.6" x2="2094" y2="391.6" stroke="#0000FF" stroke-width="3.3"/>
<rect x="2049.5" y="381.6" width="20" height="20" fill="#0000FF"/>
<text x="0" y="0" font-size="64.6" transform="translate(2131.8 414.7) scale(0.9678 1)">Propionate</text>
<line x1="2025" y1="508" x2="2094" y2="508" stroke="#00C000" stroke-width="3.3"/>
<path d="M2059.5 498L2070 518L2049 518Z" fill="#00C000"/>
<text x="0" y="0" font-size="64.6" transform="translate(2131.9 530.9) scale(0.9613 1)">Butyrate</text>
</svg></body></html>
